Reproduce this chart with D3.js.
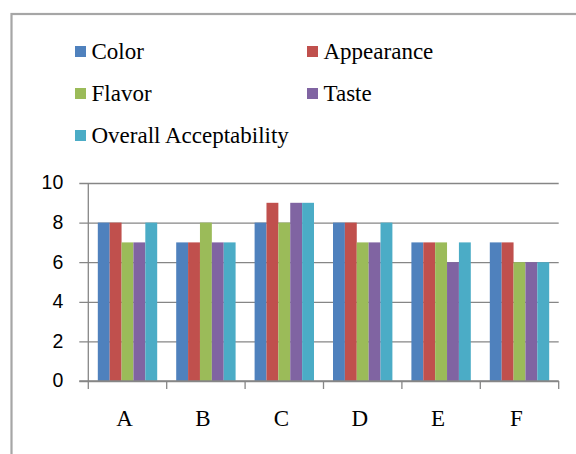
<!DOCTYPE html>
<html>
<head>
<meta charset="utf-8">
<script src="https://cdn.jsdelivr.net/npm/d3@7"></script>
<style>
  html, body { margin: 0; padding: 0; background: #fff; }
  svg { display: block; }
</style>
</head>
<body>
<svg id="chart" width="576" height="454"></svg>
<script>
const categories = ["A", "B", "C", "D", "E", "F"];
const seriesNames = ["Color", "Appearance", "Flavor", "Taste", "Overall Acceptability"];
const seriesColors = ["#4F81BD", "#C0504D", "#9BBB59", "#8064A2", "#4BACC6"];
const colorValues = [8, 7, 8, 8, 7, 7];
const appearanceValues = [8, 7, 9, 8, 7, 7];
const flavorValues = [7, 8, 8, 7, 7, 6];
const tasteValues = [7, 7, 9, 7, 6, 6];
const overallValues = [8, 7, 9, 8, 7, 6];
const yTicks = [0, 2, 4, 6, 8, 10];

const seriesValues = [colorValues, appearanceValues, flavorValues, tasteValues, overallValues];

const svg = d3.select("#chart");

// outer chart border
svg.append("rect")
  .attr("x", 11.5).attr("y", 14)
  .attr("width", 620).attr("height", 500)
  .attr("fill", "#fff")
  .attr("stroke", "#a6a6a6")
  .attr("stroke-width", 2.2);

const plot = { left: 88.3, right: 558.7, top: 183, bottom: 381 };

const x0 = d3.scaleBand().domain(categories).range([plot.left, plot.right]).padding(0);
const x1 = d3.scaleBand().domain(seriesNames).range([0, x0.bandwidth()]).paddingInner(0).paddingOuter(0.8);
const y = d3.scaleLinear().domain([0, 10]).range([plot.bottom, plot.top]);

const gridColor = "#868686";

// gridlines with y ticks
const yAxis = d3.axisLeft(y).tickValues(yTicks).tickSize(plot.right - plot.left + 9).tickPadding(16);
const gy = svg.append("g").attr("transform", `translate(${plot.right},0)`).call(yAxis);
gy.select(".domain").remove();
gy.selectAll(".tick line").attr("stroke", gridColor).attr("stroke-width", 1.3);
gy.selectAll(".tick text")
  .attr("font-family", "'Liberation Sans', Arial, sans-serif")
  .attr("font-size", 19.5)
  .attr("fill", "#000")
  .attr("dy", "0.3em");

// bars
const rows = categories.map((c, i) => ({ cat: c, vals: seriesNames.map((s, j) => ({ s, v: seriesValues[j][i], color: seriesColors[j] })) }));
const groups = svg.append("g").selectAll("g").data(rows).join("g")
  .attr("transform", d => `translate(${x0(d.cat)},0)`);
groups.selectAll("rect").data(d => d.vals).join("rect")
  .attr("x", d => x1(d.s))
  .attr("y", d => y(d.v))
  .attr("width", x1.bandwidth())
  .attr("height", d => y(0) - y(d.v))
  .attr("fill", d => d.color);

// left axis line
svg.append("line")
  .attr("x1", plot.left).attr("x2", plot.left)
  .attr("y1", plot.top).attr("y2", plot.bottom + 8)
  .attr("stroke", gridColor).attr("stroke-width", 1.3);

// x axis
const xAxis = d3.axisBottom(x0).tickSize(0).tickPadding(38);
const gx = svg.append("g").attr("transform", `translate(0,${plot.bottom})`).call(xAxis);
gx.select(".domain").remove();
gx.selectAll(".tick text")
  .attr("font-family", "'Liberation Serif', 'Times New Roman', serif")
  .attr("font-size", 23)
  .attr("fill", "#000")
  .attr("dx", -3)
  .attr("dy", "0.3em");
svg.append("line")
  .attr("x1", plot.left - 9).attr("x2", plot.right)
  .attr("y1", plot.bottom).attr("y2", plot.bottom)
  .attr("stroke", gridColor).attr("stroke-width", 1.3);
// category boundary ticks
const boundaries = categories.map(c => x0(c) + x0.bandwidth());
svg.append("g").selectAll("line").data(boundaries).join("line")
  .attr("x1", d => d).attr("x2", d => d)
  .attr("y1", plot.bottom).attr("y2", plot.bottom + 8)
  .attr("stroke", gridColor).attr("stroke-width", 1.3);

// legend
const legendPos = [
  { x: 75, y: 46 }, { x: 307, y: 46 },
  { x: 75, y: 88 }, { x: 307, y: 88 },
  { x: 75, y: 130 }
];
const leg = svg.append("g").selectAll("g").data(seriesNames).join("g")
  .attr("transform", (d, i) => `translate(${legendPos[i].x},${legendPos[i].y})`);
leg.append("rect")
  .attr("width", 11).attr("height", 11)
  .attr("fill", (d, i) => seriesColors[i]);
leg.append("text")
  .attr("x", 16.5).attr("y", 12.5)
  .attr("font-family", "'Liberation Serif', 'Times New Roman', serif")
  .attr("font-size", 23)
  .attr("fill", "#000")
  .text(d => d);
</script>
</body>
</html>
